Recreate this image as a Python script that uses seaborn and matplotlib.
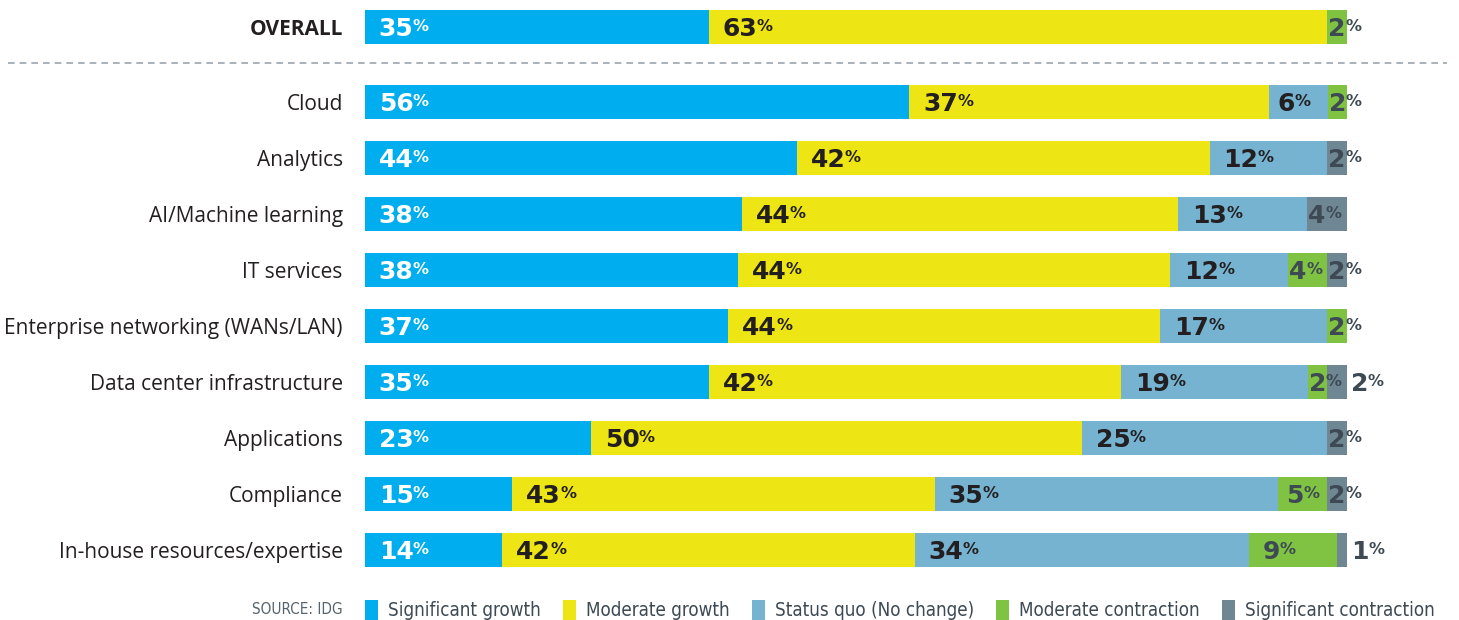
import numpy as np
import pandas as pd
import matplotlib
matplotlib.use("Agg")
import matplotlib.pyplot as plt
from matplotlib.patches import Patch
from matplotlib.lines import Line2D
from matplotlib import font_manager as fm
import seaborn as sns

# ---------------- data ----------------
series = ["Significant growth", "Moderate growth", "Status quo (No change)",
          "Moderate contraction", "Significant contraction"]
colors = ["#00AEEF", "#EEE614", "#75B3D1", "#80C242", "#6F8793"]
text_colors = ["#FFFFFF", "#231F20", "#231F20", "#3D4A54", "#3D4A54"]

overall_label = "OVERALL"
overall_values = [35, 63, 0, 2, 0]

categories = ["Cloud", "Analytics", "AI/Machine learning", "IT services",
              "Enterprise networking (WANs/LAN)", "Data center infrastructure",
              "Applications", "Compliance", "In-house resources/expertise"]
sig_growth = [56, 44, 38, 38, 37, 35, 23, 15, 14]
mod_growth = [37, 42, 44, 44, 44, 42, 50, 43, 42]
status_quo = [6, 12, 13, 12, 17, 19, 25, 35, 34]
mod_contraction = [2, 0, 0, 4, 2, 2, 0, 5, 9]
sig_contraction = [0, 2, 4, 2, 0, 2, 2, 2, 1]

source_text = "SOURCE: IDG"

# ---------------- style ----------------
sns.set_theme(style="white")
plt.rcParams["font.family"] = ["Open Sans", "DejaVu Sans"]

# find a condensed font for the legend, if any is installed
cond_file = None
cond_names = []
for f in fm.fontManager.ttflist:
    nm = f.name.lower()
    fn = f.fname.lower()
    if f.weight in (400, "normal", "regular") and f.style == "normal" and (
            "narrow" in nm or "condensed" in nm or "condensed" in fn
            or "narrow" in fn or str(f.stretch) in ("condensed", "semi-condensed")):
        if any(w in fn for w in ("bold", "light", "italic", "extra", "semi",
                                 "medium", "black", "thin")):
            continue
        cond_names.append(f.fname)
pref = ["liberationsansnarrow-regular", "notosans-condensed", "dejavusanscondensed",
        "opensans_condensed", "roboto_condensed", "robotocondensed"]
for p in pref:
    for fn in cond_names:
        if p in fn.lower().replace(" ", ""):
            cond_file = fn
            break
    if cond_file:
        break
if cond_file is None and cond_names:
    cond_file = cond_names[0]

if cond_file:
    leg_prop = fm.FontProperties(fname=cond_file, size=13.5)
    src_prop = fm.FontProperties(fname=cond_file, size=11)
else:
    leg_prop = fm.FontProperties(family="DejaVu Sans", size=11)
    src_prop = fm.FontProperties(family="DejaVu Sans", size=9.5)

W, H = 1459, 620
fig = plt.figure(figsize=(W / 100, H / 100), dpi=100)

ax_left = 365 / W
ax_width = 982 / W
ax_main = fig.add_axes([ax_left, 42 / H, ax_width, 504 / H])
ax_over = fig.add_axes([ax_left, (H - 54) / H, ax_width, 54 / H])

NUM_FONT = dict(family=["DejaVu Sans"], fontweight="bold")


def draw_rows(ax, labels, matrix, bar_width):
    matrix = np.asarray(matrix, dtype=float)  # rows x series
    totals = matrix.sum(axis=1, keepdims=True)
    shares = matrix / totals * 100.0
    cums = np.cumsum(shares, axis=1)
    # overlay cumulative bars, longest first
    for k in range(len(series) - 1, -1, -1):
        df = pd.DataFrame({"cat": labels, "val": cums[:, k]})
        sns.barplot(data=df, x="val", y="cat", order=labels, orient="h",
                    color=colors[k], saturation=1, width=bar_width,
                    linewidth=0, ax=ax)
    # value labels
    for i in range(len(labels)):
        vals = matrix[i]
        nz = [k for k in range(len(series)) if vals[k] > 0]
        for j, k in enumerate(nz):
            v = vals[k]
            start = cums[i, k] - shares[i, k]
            is_last = (j == len(nz) - 1)
            prev_small = j > 0 and vals[nz[j - 1]] <= 2 and nz[j - 1] >= 3
            outside = is_last and k == 4 and (v < 2 or prev_small)
            if outside:
                x = 100.4
                col = "#3D4A54"
            else:
                pad = 0.1 if v <= 4 else (0.8 if v < 8 else 1.4)
                x = start + pad
                col = text_colors[k]
            t = ax.text(x, i + 0.03, f"{int(v)}", ha="left", va="center",
                        fontsize=18, color=col, **NUM_FONT)
            ax.annotate("%", xy=(0.98, 0.92), xycoords=t, ha="left", va="top",
                        fontsize=11.5, color=col, **NUM_FONT)
    ax.set_xlim(0, 100)
    ax.set_ylim(len(labels) - 0.5, -0.5)
    ax.set_xlabel("")
    ax.set_ylabel("")
    ax.set_xticks([])
    for s in ax.spines.values():
        s.set_visible(False)
    ax.tick_params(axis="y", length=0, pad=16)


main_matrix = np.column_stack([sig_growth, mod_growth, status_quo,
                               mod_contraction, sig_contraction])
draw_rows(ax_main, categories, main_matrix, 0.61)
draw_rows(ax_over, [overall_label], [overall_values], 0.63)

for lab in ax_main.get_yticklabels():
    lab.set_fontsize(15)
    lab.set_color("#231F20")
for lab in ax_over.get_yticklabels():
    lab.set_fontsize(15)
    lab.set_fontweight("bold")
    lab.set_color("#231F20")

# dashed separator
fig.add_artist(Line2D([8 / W, 1447 / W], [1 - 63 / H, 1 - 63 / H],
                      transform=fig.transFigure, color="#9AA5AD",
                      linewidth=1.2, linestyle=(0, (4, 3))))

# legend
handles = [Patch(facecolor=c, edgecolor="none") for c in colors]
leg = fig.legend(handles, series, loc="center left",
                 bbox_to_anchor=(365 / W, 1 - 610 / H), ncol=5, frameon=False,
                 handlelength=0.68, handleheight=1.25, handletextpad=0.55,
                 columnspacing=1.18, borderaxespad=0, borderpad=0,
                 prop=leg_prop)
for txt in leg.get_texts():
    txt.set_color("#3D4A54")

fig.text(343 / W, 1 - 610 / H, source_text, ha="right", va="center",
         color="#56636C", fontproperties=src_prop)

fig.savefig("out.png", dpi=100)
